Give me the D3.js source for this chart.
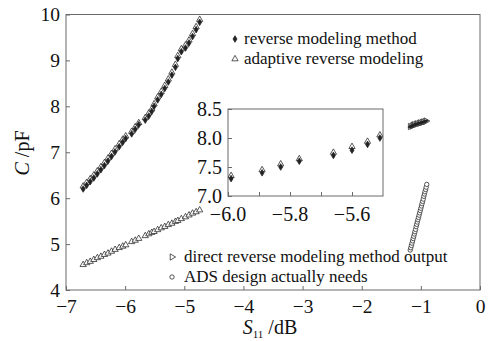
<!DOCTYPE html>
<html>
<head>
<meta charset="utf-8">
<style>
body { margin: 0; background: #fff; }
</style>
</head>
<body>
<svg width="499" height="341"></svg>
<script src="https://d3js.org/d3.v7.min.js"></script>
<script>
// S11 values shared by the upper curve and the lower line
var s11 = [-6.71,-6.65,-6.59,-6.53,-6.47,-6.41,-6.35,-6.29,-6.23,-6.17,-6.10,-6.04,
  -5.99,-5.89,-5.83,-5.77,-5.66,-5.60,-5.55,-5.51,
  -5.45,-5.39,-5.33,-5.27,-5.21,-5.15,-5.11,-5.05,-4.98,-4.92,-4.86,-4.80,-4.74];
// reverse modeling method (diamonds)
var capRev = [6.20,6.28,6.36,6.44,6.53,6.62,6.71,6.81,6.91,7.01,7.12,7.22,
  7.30,7.40,7.50,7.60,7.70,7.79,7.89,8.00,
  8.14,8.26,8.39,8.53,8.68,8.85,9.04,9.19,9.27,9.38,9.52,9.67,9.83];
// adaptive reverse modeling (triangles)
var capAdapt = [6.26,6.34,6.42,6.50,6.59,6.68,6.77,6.87,6.97,7.07,7.18,7.28,
  7.35,7.45,7.55,7.64,7.75,7.85,7.94,8.05,
  8.20,8.32,8.45,8.59,8.74,8.91,9.10,9.25,9.33,9.44,9.58,9.73,9.89];
// lower line
var capLow = [4.55,4.59,4.62,4.66,4.70,4.73,4.77,4.80,4.84,4.88,4.92,4.95,
  4.98,5.05,5.08,5.12,5.18,5.22,5.25,5.27,
  5.31,5.35,5.38,5.42,5.45,5.49,5.51,5.55,5.59,5.63,5.67,5.70,5.74];
// direct reverse modeling method output
var s11Direct = [-1.18,-1.15,-1.13,-1.11,-1.08,-1.06,-1.03,-1.01,-0.98,-0.96,-0.93,-0.91];
var capDirect = [7.56,7.57,7.59,7.60,7.61,7.62,7.63,7.64,7.65,7.66,7.67,7.68];
// ADS design actually needs
var s11Ads = [-1.18,-1.17,-1.16,-1.15,-1.14,-1.13,-1.12,-1.11,-1.10,-1.09,-1.08,-1.07,-1.06,-1.05,-1.04,-1.03,-1.02,-1.01,-1.00,-0.99,-0.98,-0.97,-0.96,-0.95,-0.94,-0.93,-0.92,-0.91,-0.90];
var capAds = [4.87,4.92,4.97,5.02,5.07,5.12,5.17,5.22,5.27,5.32,5.38,5.43,5.48,5.53,5.58,5.63,5.68,5.73,5.78,5.83,5.88,5.93,5.98,6.04,6.09,6.14,6.19,6.24,6.30];

var xTicks = [-7,-6,-5,-4,-3,-2,-1,0];
var yTicks = [4,5,6,7,8,9,10];
var insetXTicks = [-6.0,-5.9,-5.8,-5.7,-5.6];
var insetXLabels = [-6.0,-5.8,-5.6];
var insetYTicks = [7.0,7.5,8.0,8.5];

var serif = "'Liberation Serif', 'DejaVu Serif', serif";
var svg = d3.select("svg").attr("font-family", serif);
var fmtMinus = function(s) { return String(s).replace("-", "\u2212"); };

var x = d3.scaleLinear().domain([-7, 0]).range([66, 480]);
var y = d3.scaleLinear().domain([4, 10]).range([290, 14.5]);
var xi = d3.scaleLinear().domain([-6.0, -5.5]).range([228, 383]);
var yi = d3.scaleLinear().domain([7.0, 8.5]).range([196, 109]);

var frame = "#6a6a6a";

var diamond = "M0,-3.3L2,0L0,3.3L-2,0Z";
var smallDiamond = "M0,-2.2L1.3,0L0,2.2L-1.3,0Z";
var tri = d3.symbol().type(d3.symbolTriangle).size(17)();
var circ = d3.symbol().type(d3.symbolCircle).size(15)();

function drawPts(g, xs, ys, sx, sy, path, fill, rot) {
  g.selectAll(null)
    .data(xs.map(function(v, i) { return [v, ys[i]]; }))
    .enter().append("path")
      .attr("d", path)
      .attr("transform", function(d) { return "translate(" + sx(d[0]) + "," + sy(d[1]) + ")" + (rot ? " rotate(" + rot + ")" : ""); })
      .attr("fill", fill)
      .attr("stroke", "#222")
      .attr("stroke-width", 0.75);
}

// main frame
svg.append("rect").attr("x", 66).attr("y", 14.5).attr("width", 414).attr("height", 275.5)
  .attr("fill", "none").attr("stroke", frame).attr("stroke-width", 1);

var xAxis = svg.append("g").attr("transform", "translate(0,290)")
  .call(d3.axisBottom(x).tickValues(xTicks).tickSizeInner(-4).tickSizeOuter(0).tickPadding(9).tickFormat(fmtMinus));
var yAxis = svg.append("g").attr("transform", "translate(66,0)")
  .call(d3.axisLeft(y).tickValues(yTicks).tickSizeInner(-4).tickSizeOuter(0).tickPadding(6).tickFormat(fmtMinus));
[xAxis, yAxis].forEach(function(a) {
  a.attr("font-family", serif);
  a.select(".domain").remove();
  a.selectAll("line").attr("stroke", frame);
  a.selectAll("text").attr("font-size", 19.5).attr("fill", "#111");
});
xAxis.selectAll("text").attr("dy", "0.71em");

// main data
var main = svg.append("g");
drawPts(main, s11, capLow, x, y, tri, "#fff");
drawPts(main, s11, capAdapt, x, y, tri, "#fff");
drawPts(main, s11, capRev, x, y, diamond, "#222");
drawPts(main, s11Direct, capDirect, x, y, tri, "#fff", 90);
drawPts(main, s11Direct, capDirect, x, y, smallDiamond, "#222", 70);
drawPts(main, s11Ads, capAds, x, y, circ, "#fff");

// inset
svg.append("defs").append("clipPath").attr("id", "ic")
  .append("rect").attr("x", 228).attr("y", 109).attr("width", 155).attr("height", 87);
svg.append("rect").attr("x", 228).attr("y", 109).attr("width", 155).attr("height", 87)
  .attr("fill", "#fff").attr("stroke", frame).attr("stroke-width", 1);
var ixAxis = svg.append("g").attr("transform", "translate(0,196)")
  .call(d3.axisBottom(xi).tickValues(insetXTicks).tickSizeInner(-4).tickSizeOuter(0).tickFormat(""));
var iyAxis = svg.append("g").attr("transform", "translate(228,0)")
  .call(d3.axisLeft(yi).tickValues(insetYTicks).tickSizeInner(-4).tickSizeOuter(0).tickPadding(6)
    .tickFormat(function(d) { return d.toFixed(1); }));
[ixAxis, iyAxis].forEach(function(a) {
  a.attr("font-family", serif);
  a.select(".domain").remove();
  a.selectAll("line").attr("stroke", frame);
  a.selectAll("text").attr("font-size", 20).attr("fill", "#111");
});
svg.append("g").selectAll(null).data(insetXLabels).enter().append("text")
  .attr("x", function(d) { return xi(d); }).attr("y", 221)
  .attr("text-anchor", "middle").attr("font-size", 20).attr("fill", "#111")
  .text(function(d) { return fmtMinus(d.toFixed(1)); });
var inset = svg.append("g").attr("clip-path", "url(#ic)");
drawPts(inset, s11, capAdapt, xi, yi, tri, "#fff");
drawPts(inset, s11, capRev, xi, yi, diamond, "#222");

// legends
var leg = [
  {x: 235, y: 39, tx: 244, path: diamond, fill: "#222", rot: 0, label: "reverse modeling method"},
  {x: 235, y: 59, tx: 244, path: tri, fill: "#fff", rot: 0, label: "adaptive reverse modeling"},
  {x: 172, y: 257, tx: 184, path: tri, fill: "#fff", rot: 90, label: "direct reverse modeling method output"},
  {x: 172, y: 277, tx: 184, path: circ, fill: "#fff", rot: 0, label: "ADS design actually needs"}
];
leg.forEach(function(l) {
  svg.append("path").attr("d", l.path)
    .attr("transform", "translate(" + l.x + "," + l.y + ") rotate(" + l.rot + ")")
    .attr("fill", l.fill).attr("stroke", "#222").attr("stroke-width", 0.75);
  svg.append("text").attr("x", l.tx).attr("y", l.y + 5).attr("font-size", 17).attr("fill", "#111").text(l.label);
});

// axis titles
var yt = svg.append("text").attr("transform", "translate(29,153) rotate(-90)")
  .attr("text-anchor", "middle").attr("font-size", 20).attr("fill", "#111");
yt.append("tspan").attr("font-style", "italic").text("C");
yt.append("tspan").text(" /pF");

var xt = svg.append("text").attr("x", 270).attr("y", 334).attr("text-anchor", "middle").attr("font-size", 20).attr("fill", "#111");
xt.append("tspan").attr("font-style", "italic").text("S");
xt.append("tspan").attr("font-size", 11).attr("dy", 4).text("11");
xt.append("tspan").attr("dy", -4).text(" /dB");
</script>
</body>
</html>
